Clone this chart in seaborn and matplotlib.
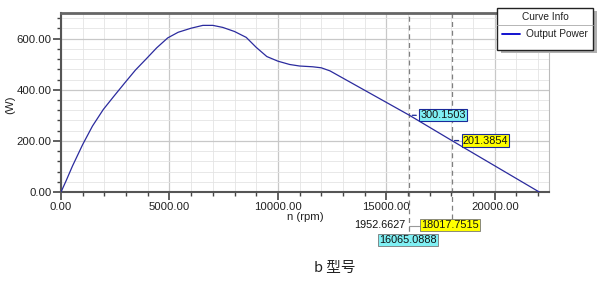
import matplotlib
matplotlib.use("Agg")
import matplotlib.pyplot as plt
import seaborn as sns
import pandas as pd
from matplotlib.ticker import MultipleLocator, FormatStrFormatter
from matplotlib.patches import Rectangle
from matplotlib.lines import Line2D

# ---- data ----
rpm = [0, 230, 530, 1000, 1450, 1950, 2440, 2940, 3430, 3930, 4410, 4920,
       5400, 6000, 6540, 7000, 7460, 8000, 8540, 9000, 9490, 10000, 10540,
       11000, 11600, 12000, 12400, 16065.0888, 18017.7515, 22050]
power = [0, 43, 102, 186, 258, 323, 375, 427, 477, 521, 564, 603,
         625, 641, 652, 652, 644, 628, 605, 566, 530, 512, 499,
         493, 490, 486, 474, 300.1503, 201.3854, 0]
marker_x = [16065.0888, 18017.7515]
marker_y = [300.1503, 201.3854]
marker_colors = ["#7ff0f4", "#ffff00"]
delta_label = "1952.6627"
xticks = [0, 5000, 10000, 15000, 20000]
yticks = [0, 200, 400, 600]
series_name = "Output Power"
legend_title = "Curve Info"
xlabel = "n (rpm)"
ylabel = "(W)"
caption = "b 型号"

df = pd.DataFrame({"rpm": rpm, "power": power})

sns.set_style("white")
plt.rcParams['font.family'] = ['Liberation Sans', 'Noto Sans CJK SC', 'DejaVu Sans']

fig = plt.figure(figsize=(6.0, 2.85), dpi=100)
ax = fig.add_axes([0.1017, 0.3263, 0.915 - 0.1017, 0.954 - 0.3263])

sns.lineplot(data=df, x="rpm", y="power", ax=ax, color="#2b2b9e", lw=0.9,
             sort=False, legend=False, zorder=3)

ax.set_xlim(0, 22500)
ax.set_ylim(0, 700)
ax.set_xticks(xticks)
ax.set_yticks(yticks)
ax.xaxis.set_minor_locator(MultipleLocator(1000))
ax.yaxis.set_minor_locator(MultipleLocator(40))
ax.xaxis.set_major_formatter(FormatStrFormatter("%.2f"))
ax.yaxis.set_major_formatter(FormatStrFormatter("%.2f"))
ax.grid(which="major", color="#c8c8c8", lw=0.9)
ax.grid(which="minor", color="#e4e4e4", lw=0.6)
ax.set_axisbelow(True)
ax.tick_params(axis="both", which="major", direction="out", length=6,
               width=1.2, color="#444444", labelsize=8.2, pad=1,
               labelcolor="#222222", bottom=True, left=True)
ax.tick_params(axis="both", which="minor", direction="out", length=3,
               width=1.0, color="#444444", bottom=True, left=True)
for side in ["left", "bottom"]:
    ax.spines[side].set_color("#555555")
    ax.spines[side].set_linewidth(1.5)
ax.spines["top"].set_color("#666666")
ax.spines["top"].set_linewidth(2.0)
ax.spines["right"].set_color("#bbbbbb")
ax.spines["right"].set_linewidth(0.8)

ax.set_xlabel(xlabel, fontsize=8.2, labelpad=0, color="#222222")
ax.set_ylabel(ylabel, fontsize=8.2, color="#222222")
ax.yaxis.set_label_coords(-0.093, 0.49)

trans = ax.get_xaxis_transform()
# vertical dashed marker lines extending below axis
ax.plot([marker_x[0]] * 2, [-0.27, 1.0], transform=trans,
        ls=(0, (4, 3)), color="#808080", lw=0.9, clip_on=False, zorder=2)
ax.plot([marker_x[1]] * 2, [-0.15, 1.0], transform=trans,
        ls=(0, (4, 3)), color="#808080", lw=0.9, clip_on=False, zorder=2)

# value boxes on the curve
for mx, my, c in zip(marker_x, marker_y, marker_colors):
    ax.annotate(f"{my:.4f}", xy=(mx, my), xytext=(8, 0),
                textcoords="offset points", fontsize=7.8, va="center", ha="left",
                color="#111111",
                bbox=dict(boxstyle="square,pad=0.1", fc=c, ec="#1a2a9a", lw=0.8),
                arrowprops=dict(arrowstyle="-", color="#1a2a9a", lw=0.9),
                zorder=5)

# x value boxes below the axis
ax.text(marker_x[1] - 80, -0.184, f"{marker_x[1]:.4f}", transform=trans,
        fontsize=7.8, ha="center", va="center", color="#111111",
        bbox=dict(boxstyle="square,pad=0.12", fc=marker_colors[1], ec="#777777", lw=0.6),
        zorder=6, clip_on=False)
ax.text(marker_x[0] - 50, -0.268, f"{marker_x[0]:.4f}", transform=trans,
        fontsize=7.8, ha="center", va="center", color="#111111",
        bbox=dict(boxstyle="square,pad=0.12", fc=marker_colors[0], ec="#777777", lw=0.6),
        zorder=6, clip_on=False)
ax.text(marker_x[0] - 180, -0.184, delta_label, transform=trans,
        fontsize=7.8, ha="right", va="center", color="#111111", clip_on=False)
ax.plot([marker_x[0], marker_x[0] + 650], [-0.19, -0.19], transform=trans,
        color="#999999", lw=0.8, clip_on=False, zorder=5)

# legend box (Curve Info)
lx0, ly0, lw_, lh_ = 497 / 600, 1 - 50 / 285, 96 / 600, 42 / 285
fig.patches.append(Rectangle((lx0 + 0.006, ly0 - 0.012), lw_, lh_, transform=fig.transFigure,
                             fc="#b0b0b0", ec="none", zorder=9))
fig.patches.append(Rectangle((lx0, ly0), lw_, lh_, transform=fig.transFigure,
                             fc="white", ec="#222222", lw=1.0, zorder=10))
fig.lines.append(Line2D([lx0, lx0 + lw_], [1 - 25 / 285] * 2, transform=fig.transFigure,
                        color="#aaaaaa", lw=0.6, zorder=11))
fig.text(lx0 + lw_ / 2, 1 - 17 / 285, legend_title, fontsize=7.3, ha="center",
         va="center", color="#222222", zorder=11)
fig.lines.append(Line2D([502 / 600, 520 / 600], [1 - 34 / 285] * 2, transform=fig.transFigure,
                        color="#0000cc", lw=1.3, zorder=11))
fig.text(526 / 600, 1 - 34 / 285, series_name, fontsize=7.3, ha="left",
         va="center", color="#222222", zorder=11)

fig.text(335 / 600, 1 - 268 / 285, caption, fontsize=10.5, ha="center", va="center",
         color="#222222", family=['Noto Sans CJK SC', 'DejaVu Sans'])

fig.savefig("out.png", dpi=100)
